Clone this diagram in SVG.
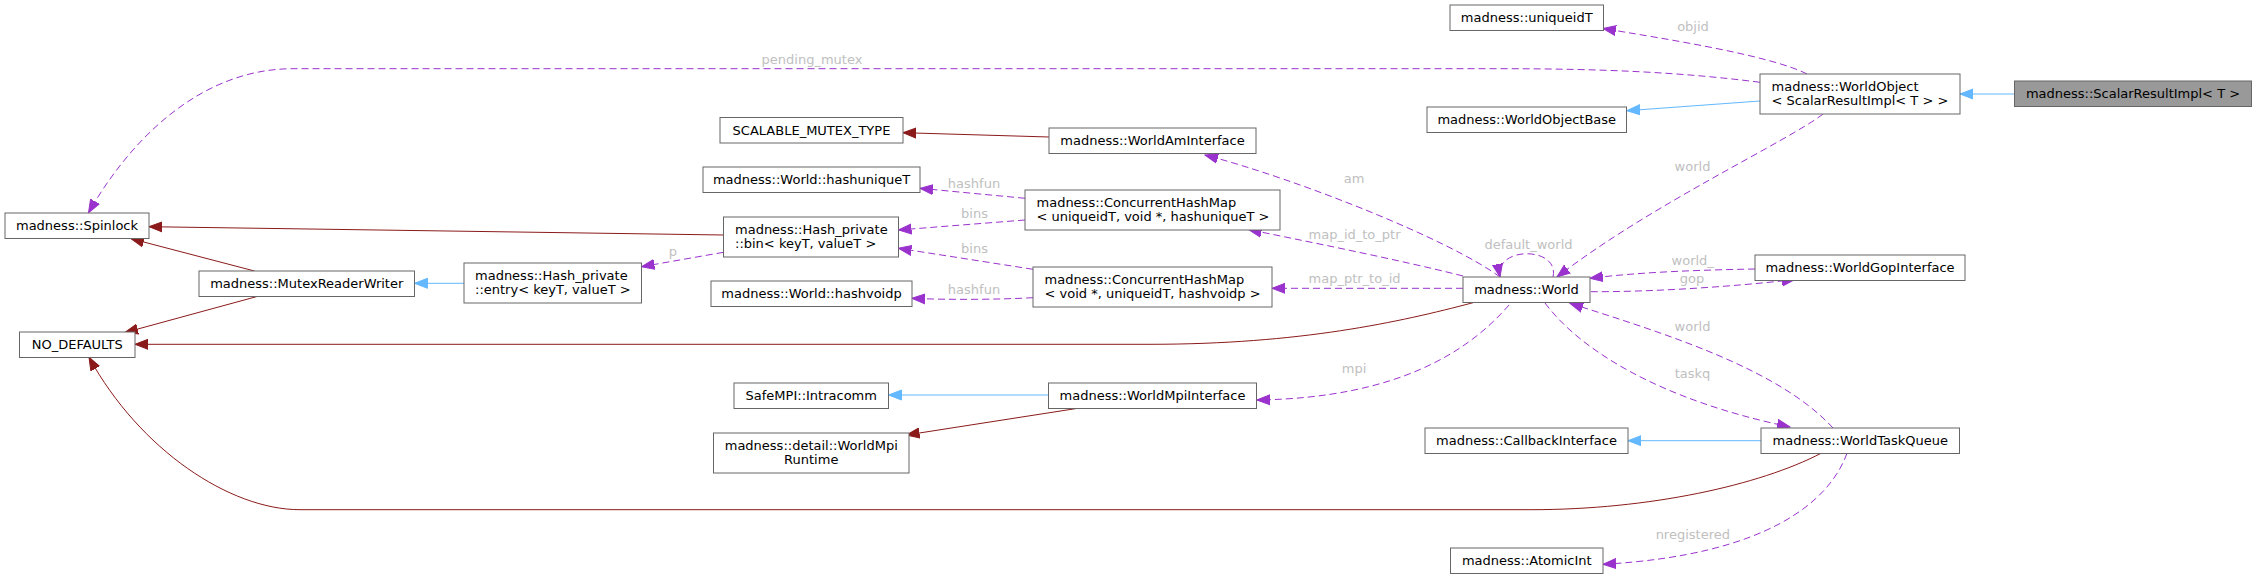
<svg xmlns="http://www.w3.org/2000/svg" width="2257" height="579" viewBox="0 0 2257 579">
<style>
.n rect{fill:#fff;stroke:#666;stroke-width:1}
.n rect.hl{fill:#999}
text{font-family:"DejaVu Sans","Liberation Sans",sans-serif;font-size:13px;fill:#000}
text.c{text-anchor:middle}
.lb{fill:#c0c0c0;text-anchor:middle}
.e{fill:none;stroke-width:1}
.inh{stroke:#63b8ff}
.prv{stroke:#8b1a1a}
.use{stroke:#9a32cd;stroke-dasharray:7,4}
</style>
<defs>
<marker id="ab" viewBox="0 -6 14 12" markerWidth="14" markerHeight="12" refX="13" refY="0" orient="auto" markerUnits="userSpaceOnUse"><polygon points="0,-5 13,0 0,5" fill="#63b8ff" stroke="#63b8ff"/></marker>
<marker id="ar" viewBox="0 -6 14 12" markerWidth="14" markerHeight="12" refX="13" refY="0" orient="auto" markerUnits="userSpaceOnUse"><polygon points="0,-5 13,0 0,5" fill="#8b1a1a" stroke="#8b1a1a"/></marker>
<marker id="ap" viewBox="0 -6 14 12" markerWidth="14" markerHeight="12" refX="13" refY="0" orient="auto" markerUnits="userSpaceOnUse"><polygon points="0,-5 13,0 0,5" fill="#9a32cd" stroke="#9a32cd"/></marker>
</defs>
<g id="edges">
<path class="e inh" marker-end="url(#ab)" d="M2014,94 L1960,94"/>
<path class="e inh" marker-end="url(#ab)" d="M1760,101 L1627,110.7"/>
<path class="e use" marker-end="url(#ap)" d="M1807,74 C1770,55 1660,38 1603,28.5"/>
<path class="e use" marker-end="url(#ap)" d="M1760,82.3 C1680,72 1600,68.7 1500,68.7 L293,68.7 C200,68.7 130,140 88.5,212.7"/>
<path class="e use" marker-end="url(#ap)" d="M1823,114 C1790,140 1650,205 1557,277"/>
<path class="e use" marker-end="url(#ap)" d="M1553,277 C1560,246 1494,246 1500,277"/>
<path class="e use" marker-end="url(#ap)" d="M1500,277 C1450,240 1300,180 1205,155"/>
<path class="e use" marker-end="url(#ap)" d="M1463,276 C1400,260 1300,240 1248.5,229.5"/>
<path class="e use" marker-end="url(#ap)" d="M1463,288.3 L1272,288.3"/>
<path class="e prv" marker-end="url(#ar)" d="M1473,302.7 C1400,322 1300,344.3 1150,344.3 L135,344.3"/>
<path class="e use" marker-end="url(#ap)" d="M1509,305 C1470,350 1400,398 1257,400"/>
<path class="e use" marker-end="url(#ap)" d="M1755,269 C1700,270 1640,272 1590,278.3"/>
<path class="e use" marker-end="url(#ap)" d="M1591,291.7 C1650,292 1730,287 1795,279.5"/>
<path class="e use" marker-end="url(#ap)" d="M1833,428 C1780,370 1670,335 1570,303.3"/>
<path class="e use" marker-end="url(#ap)" d="M1545,303 C1580,350 1660,400 1790,427"/>
<path class="e inh" marker-end="url(#ab)" d="M1761,440.7 L1628,440.7"/>
<path class="e prv" marker-end="url(#ar)" d="M1821,453.3 C1760,485 1650,509.7 1531,509.7 L300,509.7 C230,509.7 140,450 89,357.3"/>
<path class="e use" marker-end="url(#ap)" d="M1847,453.3 C1830,500 1770,555 1603,564.3"/>
<path class="e prv" marker-end="url(#ar)" d="M1049,137 L903,132.7"/>
<path class="e use" marker-end="url(#ap)" d="M1025,198.3 L920,188.3"/>
<path class="e use" marker-end="url(#ap)" d="M1025,220 L898.5,230"/>
<path class="e use" marker-end="url(#ap)" d="M1033,269.3 L898.5,248.3"/>
<path class="e use" marker-end="url(#ap)" d="M1033,297.7 C1000,299.5 950,300 912,298.3"/>
<path class="e prv" marker-end="url(#ar)" d="M723.5,235 L149,226.7"/>
<path class="e use" marker-end="url(#ap)" d="M723.5,252.3 L641.5,266.7"/>
<path class="e inh" marker-end="url(#ab)" d="M464,283.3 L414.5,283.3"/>
<path class="e prv" marker-end="url(#ar)" d="M254.5,271 L131,238.7"/>
<path class="e prv" marker-end="url(#ar)" d="M257,296.5 L125,332.5"/>
<path class="e inh" marker-end="url(#ab)" d="M1048.5,395 L888.5,395"/>
<path class="e prv" marker-end="url(#ar)" d="M1076.5,408.5 L906.5,435"/>
<text class="lb" x="812" y="64">pending_mutex</text>
<text class="lb" x="1693" y="30.7">objid</text>
<text class="lb" x="1692.5" y="171">world</text>
<text class="lb" x="1354" y="183.3">am</text>
<text class="lb" x="974" y="188.3">hashfun</text>
<text class="lb" x="974.5" y="218.3">bins</text>
<text class="lb" x="974.5" y="252.7">bins</text>
<text class="lb" x="1354.5" y="239.3">map_id_to_ptr</text>
<text class="lb" x="1354.5" y="283.3">map_ptr_to_id</text>
<text class="lb" x="974" y="294">hashfun</text>
<text class="lb" x="1528.5" y="249.3">default_world</text>
<text class="lb" x="1692.7" y="265">world_</text>
<text class="lb" x="1692" y="283.3">gop</text>
<text class="lb" x="673" y="256">p</text>
<text class="lb" x="1692.5" y="330.7">world</text>
<text class="lb" x="1692.5" y="378.3">taskq</text>
<text class="lb" x="1354" y="373.3">mpi</text>
<text class="lb" x="1692.8" y="539.3">nregistered</text>
</g>
<g id="n_scalar" class="n"><rect class="hl" x="2014.5" y="81" width="237" height="25.5"/><text class="c" x="2133" y="98.3">madness::ScalarResultImpl&lt; T &gt;</text></g>
<g id="n_worldobject" class="n"><rect x="1760" y="74" width="200" height="40"/><text x="1771.5" y="90.5">madness::WorldObject</text><text x="1771.5" y="105">&lt; ScalarResultImpl&lt; T &gt; &gt;</text></g>
<g id="n_uniqueidT" class="n"><rect x="1450" y="5" width="153.5" height="25.5"/><text class="c" x="1526.75" y="22.3">madness::uniqueidT</text></g>
<g id="n_worldobjectbase" class="n"><rect x="1427" y="107" width="199.5" height="25.5"/><text class="c" x="1526.75" y="124.3">madness::WorldObjectBase</text></g>
<g id="n_world" class="n"><rect x="1463" y="277" width="127" height="25.5"/><text class="c" x="1526.5" y="294.3">madness::World</text></g>
<g id="n_gop" class="n"><rect x="1755" y="255" width="210" height="25.5"/><text class="c" x="1860" y="272.3">madness::WorldGopInterface</text></g>
<g id="n_taskq" class="n"><rect x="1761" y="428" width="198.5" height="25.5"/><text class="c" x="1860.25" y="445.3">madness::WorldTaskQueue</text></g>
<g id="n_callback" class="n"><rect x="1425" y="428" width="203" height="25.5"/><text class="c" x="1526.5" y="445.3">madness::CallbackInterface</text></g>
<g id="n_atomicint" class="n"><rect x="1450.5" y="548" width="152.5" height="25.5"/><text class="c" x="1526.75" y="565.3">madness::AtomicInt</text></g>
<g id="n_am" class="n"><rect x="1049" y="128" width="207" height="25.5"/><text class="c" x="1152.5" y="145.3">madness::WorldAmInterface</text></g>
<g id="n_scalable" class="n"><rect x="720" y="117.5" width="183" height="25.5"/><text class="c" x="811.5" y="134.7">SCALABLE_MUTEX_TYPE</text></g>
<g id="n_hashuniqueT" class="n"><rect x="703" y="167" width="217" height="25.5"/><text class="c" x="811.5" y="184.3">madness::World::hashuniqueT</text></g>
<g id="n_chm1" class="n"><rect x="1025" y="190" width="255" height="40"/><text x="1036.5" y="206.5">madness::ConcurrentHashMap</text><text x="1036.5" y="221">&lt; uniqueidT, void *, hashuniqueT &gt;</text></g>
<g id="n_bin" class="n"><rect x="723.5" y="217" width="175" height="40"/><text x="735" y="233.5">madness::Hash_private</text><text x="735" y="248">::bin&lt; keyT, valueT &gt;</text></g>
<g id="n_chm2" class="n"><rect x="1033" y="267" width="239" height="40"/><text x="1044.5" y="283.5">madness::ConcurrentHashMap</text><text x="1044.5" y="298">&lt; void *, uniqueidT, hashvoidp &gt;</text></g>
<g id="n_hashvoidp" class="n"><rect x="711" y="281" width="201" height="25.5"/><text class="c" x="811.5" y="298.3">madness::World::hashvoidp</text></g>
<g id="n_intracomm" class="n"><rect x="734" y="383" width="154.5" height="25.5"/><text class="c" x="811.25" y="400.3">SafeMPI::Intracomm</text></g>
<g id="n_mpi" class="n"><rect x="1048.5" y="383" width="208" height="25.5"/><text class="c" x="1152.5" y="400.3">madness::WorldMpiInterface</text></g>
<g id="n_runtime" class="n"><rect x="713.5" y="433" width="195.5" height="40"/><text class="c" x="811.25" y="449.5">madness::detail::WorldMpi</text><text class="c" x="811.25" y="464">Runtime</text></g>
<g id="n_spinlock" class="n"><rect x="5" y="213" width="144" height="25.5"/><text class="c" x="77" y="230.3">madness::Spinlock</text></g>
<g id="n_mrw" class="n"><rect x="199" y="271" width="215.5" height="25.5"/><text class="c" x="306.75" y="288.3">madness::MutexReaderWriter</text></g>
<g id="n_entry" class="n"><rect x="464" y="263" width="177.5" height="40"/><text x="475" y="279.5">madness::Hash_private</text><text x="475" y="294">::entry&lt; keyT, valueT &gt;</text></g>
<g id="n_nodefaults" class="n"><rect x="19.5" y="332" width="115.5" height="25.5"/><text class="c" x="77.25" y="349.3">NO_DEFAULTS</text></g>
</svg>
